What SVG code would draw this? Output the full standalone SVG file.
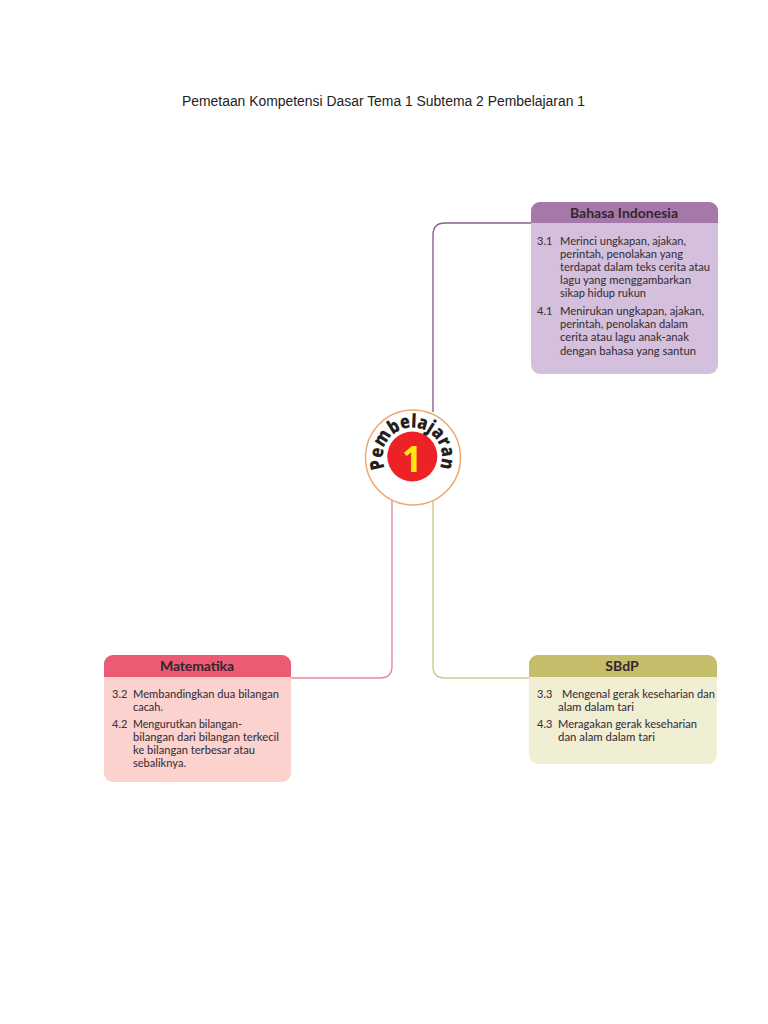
<svg xmlns="http://www.w3.org/2000/svg" width="768" height="1024" viewBox="0 0 768 1024">
<style>
.t{font-family:"Lato","Liberation Sans",sans-serif;font-size:11px;fill:#3c3440;font-weight:500}
.h{font-family:"Lato","Liberation Sans",sans-serif;font-size:14px;font-weight:700;fill:#33262f;text-anchor:middle}
.c{fill:none;stroke-width:1.4}
</style>
<defs><path id="arc" d="M385.8 470A29.5 29.5 0 1 1 438.8 470"/></defs>
<rect width="768" height="1024" fill="#fff"/>
<text x="182" y="106" font-family="'Liberation Sans',sans-serif" font-size="14" fill="#222" textLength="403" lengthAdjust="spacingAndGlyphs">Pemetaan Kompetensi Dasar Tema 1 Subtema 2 Pembelajaran 1</text>
<g id="connectors">
<path class="c" stroke="#8e5b9a" d="M433 412V235Q433 223 445 223H532"/>
<path class="c" stroke="#e88a96" d="M392 498V666Q392 678 380 678H290"/>
<path class="c" stroke="#cfc987" d="M433 498V666Q433 678 445 678H530"/>
</g>
<g id="node-center">
<circle cx="413" cy="457.5" r="47.5" fill="#fff" stroke="#f0a76c" stroke-width="1.5"/>
<circle cx="412.3" cy="456.5" r="25" fill="#ec2227"/>
<text x="412" y="472" text-anchor="middle" font-family="'Open Sans','Liberation Sans',sans-serif" font-weight="700" font-size="35" fill="#fde910">1</text>
<text font-family="'Open Sans','Liberation Sans',sans-serif" font-weight="800" font-size="19" fill="#231f20"><textPath href="#arc" startOffset="2" textLength="115" lengthAdjust="spacingAndGlyphs">Pembelajaran</textPath></text>
</g>
<g id="node-bahasa">
<rect x="531" y="202" width="187" height="172" rx="9" fill="#d4c0dc"/>
<path d="M531 223V211a9 9 0 0 1 9-9H709a9 9 0 0 1 9 9V223Z" fill="#a678a9"/>
<text class="h" x="624" y="218" textLength="108">Bahasa Indonesia</text>
<text class="t" x="537" y="245">3.1</text>
<text class="t" x="560" y="245" textLength="126" lengthAdjust="spacingAndGlyphs">Merinci ungkapan, ajakan,</text>
<text class="t" x="560" y="258" textLength="123" lengthAdjust="spacingAndGlyphs">perintah, penolakan yang</text>
<text class="t" x="560" y="271" textLength="150" lengthAdjust="spacingAndGlyphs">terdapat dalam teks cerita atau</text>
<text class="t" x="560" y="284" textLength="131" lengthAdjust="spacingAndGlyphs">lagu yang menggambarkan</text>
<text class="t" x="560" y="297" textLength="86" lengthAdjust="spacingAndGlyphs">sikap hidup rukun</text>
<text class="t" x="537" y="315">4.1</text>
<text class="t" x="560" y="315" textLength="144" lengthAdjust="spacingAndGlyphs">Menirukan ungkapan, ajakan,</text>
<text class="t" x="560" y="328" textLength="128" lengthAdjust="spacingAndGlyphs">perintah, penolakan dalam</text>
<text class="t" x="560" y="341" textLength="129" lengthAdjust="spacingAndGlyphs">cerita atau lagu anak-anak</text>
<text class="t" x="560" y="355" textLength="136" lengthAdjust="spacingAndGlyphs">dengan bahasa yang santun</text>
</g>
<g id="node-matematika">
<rect x="104" y="655" width="187" height="127" rx="9" fill="#fbd2cd"/>
<path d="M104 677V664a9 9 0 0 1 9-9H282a9 9 0 0 1 9 9V677Z" fill="#ec5b73"/>
<text class="h" x="197" y="671" textLength="74">Matematika</text>
<text class="t" x="112" y="698">3.2</text>
<text class="t" x="133" y="698" textLength="146" lengthAdjust="spacingAndGlyphs">Membandingkan dua bilangan</text>
<text class="t" x="133" y="711" textLength="30" lengthAdjust="spacingAndGlyphs">cacah.</text>
<text class="t" x="112" y="728">4.2</text>
<text class="t" x="133" y="728" textLength="109" lengthAdjust="spacingAndGlyphs">Mengurutkan bilangan-</text>
<text class="t" x="133" y="741" textLength="146" lengthAdjust="spacingAndGlyphs">bilangan dari bilangan terkecil</text>
<text class="t" x="133" y="754" textLength="122" lengthAdjust="spacingAndGlyphs">ke bilangan terbesar atau</text>
<text class="t" x="133" y="767" textLength="53" lengthAdjust="spacingAndGlyphs">sebaliknya.</text>
</g>
<g id="node-sbdp">
<rect x="529" y="655" width="188" height="109" rx="9" fill="#f1efd3"/>
<path d="M529 677V664a9 9 0 0 1 9-9H708a9 9 0 0 1 9 9V677Z" fill="#c5bd69"/>
<text class="h" x="622" y="671">SBdP</text>
<text class="t" x="537" y="698">3.3</text>
<text class="t" x="562" y="698" textLength="153" lengthAdjust="spacingAndGlyphs">Mengenal gerak keseharian dan</text>
<text class="t" x="558" y="711" textLength="76" lengthAdjust="spacingAndGlyphs">alam dalam tari</text>
<text class="t" x="537" y="728">4.3</text>
<text class="t" x="558" y="728" textLength="139" lengthAdjust="spacingAndGlyphs">Meragakan gerak keseharian</text>
<text class="t" x="558" y="741" textLength="97" lengthAdjust="spacingAndGlyphs">dan alam dalam tari</text>
</g>
</svg>
